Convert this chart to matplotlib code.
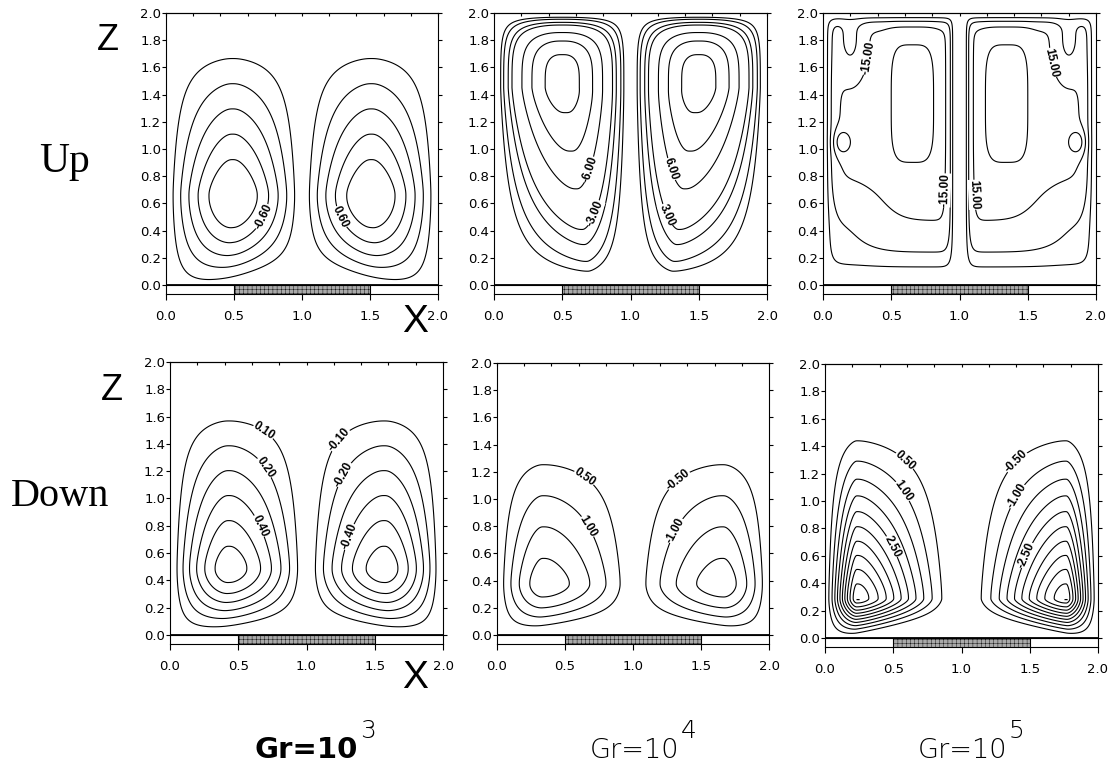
import numpy as np
import matplotlib.pyplot as plt
from matplotlib.patches import Rectangle

plt.rcParams['font.family'] = ['Liberation Sans', 'DejaVu Sans']
plt.rcParams['hatch.linewidth'] = 0.3
plt.rcParams['hatch.color'] = '#707070'

# contour levels of the stream function (magnitudes, left cell sign applied later)
up_levels = [
    [0.15, 0.30, 0.45, 0.60, 0.75],
    [0.5, 1.0, 2.0, 3.0, 6.0, 9.0, 12.0],
    [5.0, 10.0, 15.0, 20.0],
]
down_levels = [
    [0.10, 0.20, 0.30, 0.40, 0.50, 0.60],
    [0.50, 1.00, 1.50, 2.00],
    [0.50, 1.00, 1.50, 2.00, 2.50, 3.00, 3.50, 4.00, 4.50, 5.00],
]

# left-cell description
# x0, x1, xc, z0, z1, zc, nx, nx_low, mx, nz_up, mz_up, nz_dn, mz_dn, shear, tilt, peak
up_cells = [
    [0.00, 1.00, 0.49, -0.01, 1.85, 0.66, 1.5, 1.5, 1.0, 1.0, 1.0, 1.5, 1.0, 0.00, 0.25, -0.92],
    [0.00, 1.00, 0.50, 0.00, 2.00, 1.45, 2.0, 1.1, 2.0, 3.5, 2.0, 1.1, 1.3, 0.20, 0.00, -13.2],
    [0.00, 0.97, 0.60, 0.00, 2.00, 1.35, 14.0, 14.0, 2.0, 14.0, 2.0, 7.5, 2.0, 0.00, 0.00, -16.0],
]
down_cells = [
    [0.01, 0.99, 0.43, 0.00, 1.75, 0.49, 1.5, 1.5, 1.0, 1.0, 1.0, 1.5, 1.2, 0.00, 0.15, 0.66],
    [0.00, 1.00, 0.34, 0.00, 1.48, 0.38, 1.5, 1.5, 1.0, 1.0, 1.0, 1.5, 1.2, 0.00, 0.15, 2.30],
    [-0.01, 0.97, 0.235, -0.01, 1.65, 0.29, 1.3, 1.3, 1.5, 1.0, 1.3, 1.3, 1.5, 0.00, 0.20, 5.30],
]
# relative strength changes inside the Gr=1e5 upward cells: x, z, sigma_x, sigma_z, power, gain
up_extra = [
    [],
    [],
    [[0.655, 1.335, 0.186, 0.52, 4, 0.406],
     [0.14, 1.05, 0.07, 0.09, 2, 0.55],
     [0.20, 1.80, 0.10, 0.25, 2, -0.45],
     [0.12, 0.40, 0.28, 0.30, 2, -0.31]],
]

# labelled contours: (level, x, z)
up_labels = [
    [(-0.60, 0.78, 0.47), (0.60, 1.22, 0.47)],
    [(-6.0, 0.70, 0.85), (-3.0, 0.83, 0.49), (6.0, 1.29, 0.85), (3.0, 1.18, 0.48)],
    [(-15.0, 0.32, 1.67), (-15.0, 0.80, 0.70), (15.0, 1.66, 1.63), (15.0, 1.20, 0.67)],
]
down_labels = [
    [(0.10, 0.68, 1.48), (0.20, 0.645, 1.19), (0.40, 0.635, 0.79),
     (-0.10, 1.27, 1.41), (-0.20, 1.30, 1.16), (-0.40, 1.31, 0.72)],
    [(0.50, 0.63, 1.14), (1.00, 0.62, 0.77), (-0.50, 1.35, 1.12), (-1.00, 1.35, 0.75)],
    [(0.50, 0.645, 1.36), (1.00, 0.61, 1.10), (2.50, 0.50, 0.67),
     (-0.50, 1.34, 1.35), (-1.00, 1.36, 1.06), (-2.50, 1.44, 0.62)],
]
gr_exp = ['3', '4', '5']

xg = np.linspace(0, 2, 501)
zg = np.linspace(0, 2, 501)
X, Z = np.meshgrid(xg, zg)


def profile(t, n, m):
    t = np.clip(t, 0, 1)
    e = 0.05
    ts = (np.sqrt(t ** 2 + e ** 2) - e) / (np.sqrt(1 + e ** 2) - e)
    return (1 - ts ** n) ** m


def cell(x, z, p):
    x0, x1, xc, z0, z1, zc, nx, nxl, mx, nzu, mzu, nzd, mzd, shear, tilt, peak = p
    below = np.clip((zc - z) / (zc - z0), 0, 1)
    xcz = xc + shear * below
    nxz = nx + (nxl - nx) * below
    tx = np.where(x < xcz, (xcz - x) / (xcz - x0), (x - xcz) / (x1 - xcz))
    fx = profile(tx, nxz, mx)
    z0e = np.minimum(z0 + tilt * (x - xcz), zc - 0.05)
    tz_up = (z - zc) / (z1 - zc)
    tz_dn = (zc - z) / (zc - z0e)
    fz = np.where(z >= zc, profile(tz_up, nzu, mzu), profile(tz_dn, nzd, mzd))
    return peak * fx * fz


def half_field(x, z, p, extra):
    gain = np.ones_like(x)
    for ex, ez, sx, sz, pw, g in extra:
        gain = gain + g * np.exp(-np.abs((x - ex) / sx) ** pw - np.abs((z - ez) / sz) ** pw)
    return cell(x, z, p) * gain


def field(p, extra):
    return np.where(X <= 1, half_field(X, Z, p, extra), -half_field(2 - X, Z, p, extra))


def label_contour(ax, cs, level, lx, lz):
    k = list(cs.levels).index(level)
    segs = [s for s in cs.allsegs[k] if len(s) > 3]
    if not segs:
        return
    best = None
    for s in segs:
        d = np.hypot(s[:, 0] - lx, s[:, 1] - lz)
        j = int(np.argmin(d))
        if best is None or d[j] < best[0]:
            best = (d[j], s, j)
    _, s, j = best
    a = s[max(j - 3, 0)]
    b = s[min(j + 3, len(s) - 1)]
    pa = ax.transData.transform(a)
    pb = ax.transData.transform(b)
    ang = np.degrees(np.arctan2(pb[1] - pa[1], pb[0] - pa[0]))
    if ang > 90:
        ang -= 180
    if ang < -90:
        ang += 180
    ax.text(s[j, 0], s[j, 1], '%.2f' % level, fontsize=8.5, fontweight='bold',
            rotation=ang, rotation_mode='anchor', ha='center', va='center',
            bbox=dict(facecolor='white', edgecolor='none', pad=0.1), zorder=6)


def draw_panel(ax, psi, mags, labels):
    levels = sorted([-v for v in mags] + list(mags))
    cs = ax.contour(X, Z, psi, levels=levels, colors='k', linewidths=0.8,
                    linestyles='solid')
    ax.set_xlim(0, 2)
    ax.set_ylim(-0.066, 2.0)
    for lev, lx, lz in labels:
        label_contour(ax, cs, lev, lx, lz)

    ax.add_patch(Rectangle((0, -0.066), 2, 0.066, facecolor='white',
                           edgecolor='k', lw=0.8, zorder=3))
    ax.add_patch(Rectangle((0.5, -0.066), 1.0, 0.066, facecolor='#a9a9a9',
                           edgecolor='k', lw=0.8, hatch='++++', zorder=4))
    ax.axhline(0, color='k', lw=1.3, zorder=5)

    ax.set_xticks([0, 0.5, 1.0, 1.5, 2.0])
    ax.set_xticklabels(['0.0', '0.5', '1.0', '1.5', '2.0'], family='DejaVu Sans')
    ax.set_yticks(np.arange(0, 2.01, 0.2))
    ax.set_yticklabels(['%.1f' % v for v in np.arange(0, 2.01, 0.2)],
                       family='DejaVu Sans')
    ax.tick_params(axis='x', direction='out', length=4.5, width=0.8, pad=7,
                   labelsize=9.5)
    ax.tick_params(axis='y', direction='out', length=3, width=0.8, pad=0.5,
                   labelsize=9.5, right=True)
    top = ax.secondary_xaxis('top')
    top.set_xticks(np.arange(0, 2.01, 0.2))
    top.set_xticklabels([])
    top.tick_params(direction='in', length=2.5, width=0.8)
    for s in ax.spines.values():
        s.set_linewidth(0.8)
    top.spines['top'].set_linewidth(0.8)


W, H = 1110, 769
fig = plt.figure(figsize=(W / 100, H / 100), dpi=100)


def rect(x0, ytop, w, h):
    return [x0 / W, 1 - (ytop + h) / H, w / W, h / H]


up_pos = [rect(166, 13, 272, 281), rect(494, 13, 273, 281), rect(823, 13, 273, 281)]
down_pos = [rect(170, 362, 273, 282), rect(497, 363, 272, 281), rect(825, 364, 273, 283)]

for i in range(3):
    ax = fig.add_axes(up_pos[i])
    draw_panel(ax, field(up_cells[i], up_extra[i]), up_levels[i], up_labels[i])
    ax = fig.add_axes(down_pos[i])
    draw_panel(ax, field(down_cells[i], []), down_levels[i], down_labels[i])
    if i == 2:
        ax.text(0.235, 0.28, '-', fontsize=9, fontweight='bold', ha='center', va='center')
        ax.text(1.765, 0.28, '-', fontsize=9, fontweight='bold', ha='center', va='center')

# axis names and row titles
fig.text(108 / W, 1 - 40 / H, 'Z', fontsize=26, ha='center', va='center')
fig.text(112 / W, 1 - 390 / H, 'Z', fontsize=26, ha='center', va='center')
fig.text(415 / W, 1 - 322 / H, 'X', fontsize=28, ha='center', va='center')
fig.text(415 / W, 1 - 678 / H, 'X', fontsize=28, ha='center', va='center')
fig.text(64 / W, 1 - 162 / H, 'Up', fontsize=30, family='Liberation Serif',
         ha='center', va='center')
fig.text(60 / W, 1 - 497 / H, 'Down', fontsize=29, family='Liberation Serif',
         ha='center', va='center')

# Grashof number captions, exponent placed right after the rendered base text
renderer = fig.canvas.get_renderer()
gr_x = [255, 590, 918]
for k in range(3):
    if k == 0:
        style = dict(family='DejaVu Sans', fontweight='bold')
        size = 21
    else:
        style = dict(family='DejaVu Sans', fontweight='light')
        size = 19.5
    base = fig.text(gr_x[k] / W, 1 - 758 / H, 'Gr=10', fontsize=size,
                    ha='left', va='baseline', **style)
    x_end = base.get_window_extent(renderer).x1
    fig.text(x_end / W + 1.5 / W, 1 - 738 / H, gr_exp[k], fontsize=18,
             family='DejaVu Sans', fontweight='light', ha='left', va='baseline')

fig.savefig('out.png', dpi=100)
